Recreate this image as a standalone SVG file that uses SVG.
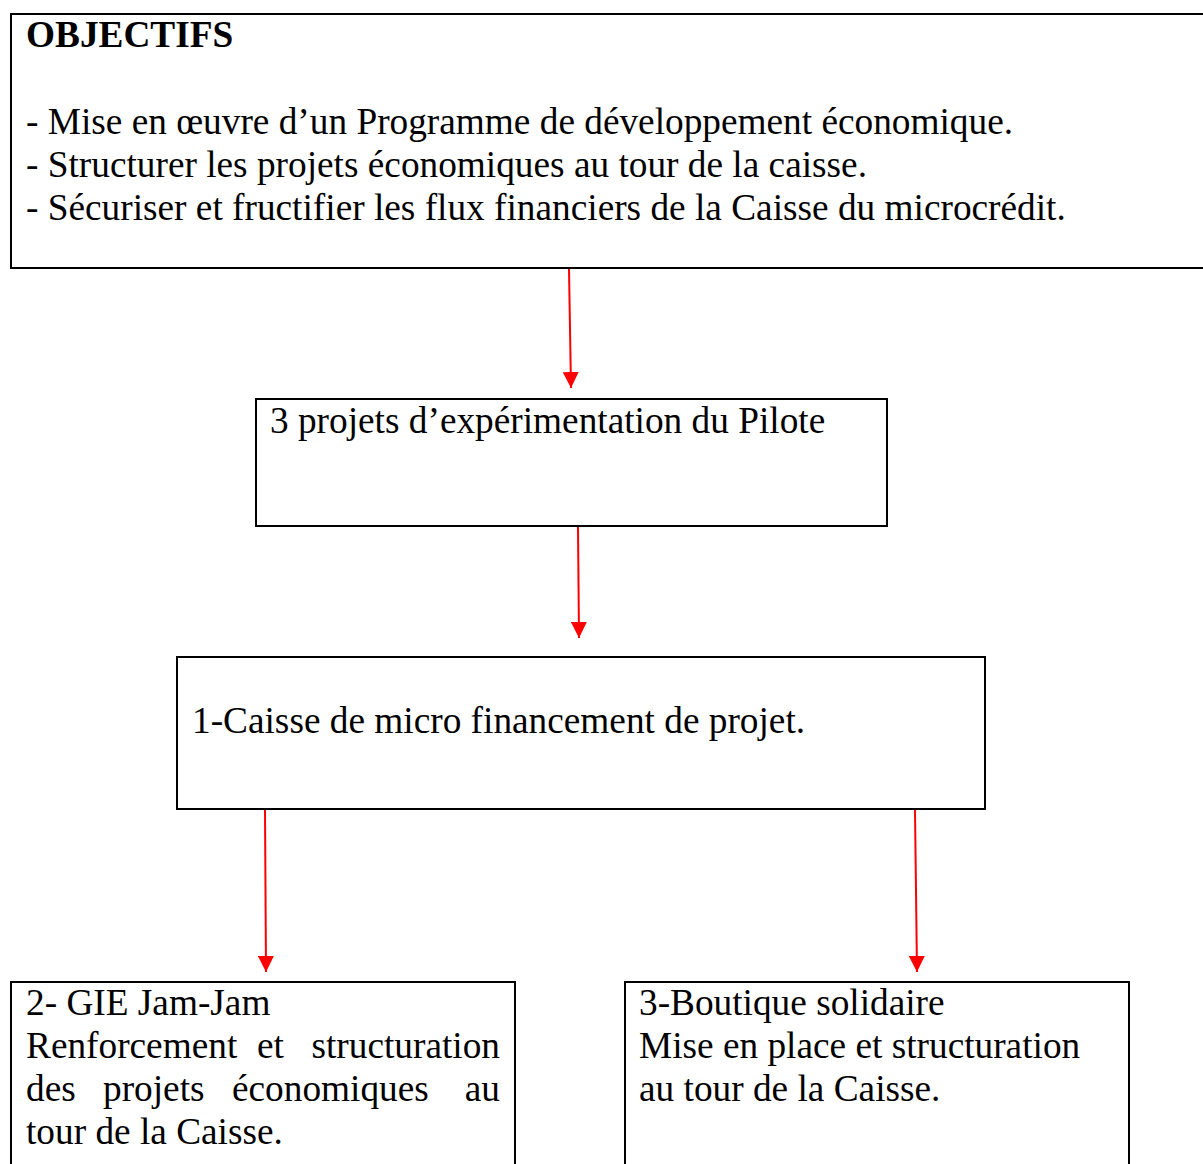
<svg xmlns="http://www.w3.org/2000/svg" width="1203" height="1164" viewBox="0 0 1203 1164">
<style>
.box{fill:#fff;stroke:#000;stroke-width:2}
.t{font-family:"Liberation Serif","Times New Roman",serif;font-size:37.3px;fill:#000}
.b{font-weight:bold}
.c{stroke:#f00;stroke-width:2;fill:none}
</style>
<defs>
<marker id="ah" markerWidth="8" markerHeight="8" refX="8" refY="4" orient="auto" markerUnits="strokeWidth">
<path d="M0,0 L8,4 L0,8 Z" fill="#f00"/>
</marker>
</defs>
<rect width="1203" height="1164" fill="#fff"/>
<g id="objectifs">
<rect class="box" x="11" y="14" width="1200" height="254"/>
<text class="t b" x="26" y="47">OBJECTIFS</text>
<text class="t" x="26" y="134">- Mise en œuvre d’un Programme de développement économique.</text>
<text class="t" x="26" y="177">- Structurer les projets économiques au tour de la caisse.</text>
<text class="t" x="26" y="220">- Sécuriser et fructifier les flux financiers de la Caisse du microcrédit.</text>
</g>
<g id="projets">
<rect class="box" x="256" y="399" width="631" height="127"/>
<text class="t" x="270" y="433">3 projets d’expérimentation du Pilote</text>
</g>
<g id="caisse">
<rect class="box" x="177" y="657" width="808" height="152"/>
<text class="t" x="192" y="733">1-Caisse de micro financement de projet.</text>
</g>
<g id="gie">
<rect class="box" x="11" y="982" width="504" height="200"/>
<text class="t" x="26" y="1015">2- GIE Jam-Jam</text>
<text class="t" x="26" y="1058">Renforcement</text>
<text class="t" x="257" y="1058">et</text>
<text class="t" x="500" y="1058" text-anchor="end">structuration</text>
<text class="t" x="26" y="1101">des</text>
<text class="t" x="103" y="1101">projets</text>
<text class="t" x="232" y="1101">économiques</text>
<text class="t" x="500" y="1101" text-anchor="end">au</text>
<text class="t" x="26" y="1144">tour de la Caisse.</text>
</g>
<g id="boutique">
<rect class="box" x="625" y="982" width="504" height="200"/>
<text class="t" x="639" y="1015">3-Boutique solidaire</text>
<text class="t" x="639" y="1058">Mise en place et structuration</text>
<text class="t" x="639" y="1101">au tour de la Caisse.</text>
</g>
<g id="connectors">
<line class="c" x1="569" y1="269" x2="571" y2="388" marker-end="url(#ah)"/>
<line class="c" x1="578" y1="527" x2="579" y2="638" marker-end="url(#ah)"/>
<line class="c" x1="265" y1="810" x2="266" y2="972" marker-end="url(#ah)"/>
<line class="c" x1="915" y1="810" x2="917" y2="972" marker-end="url(#ah)"/>
</g>
</svg>
